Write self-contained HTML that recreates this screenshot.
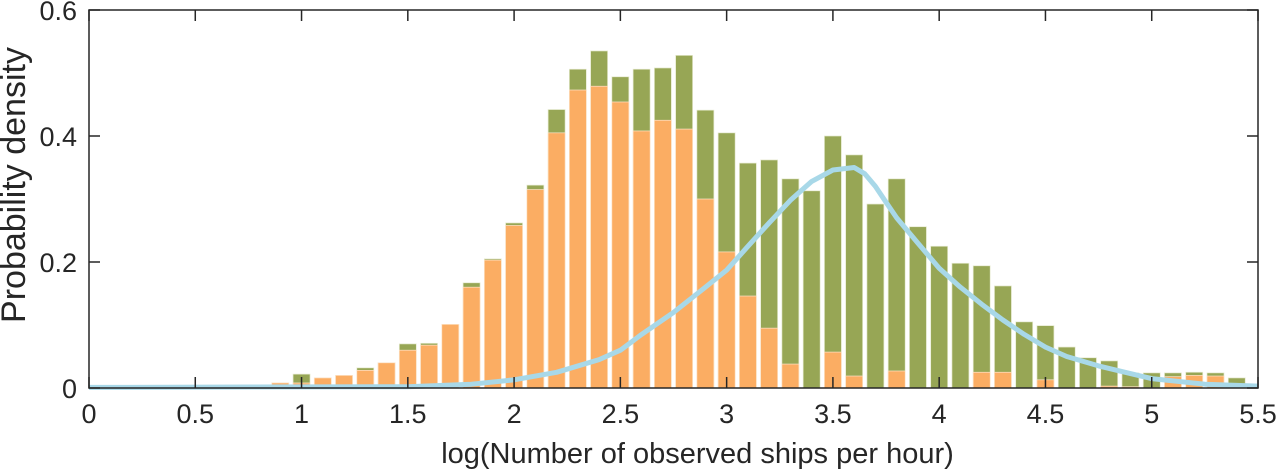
<!DOCTYPE html>
<html><head><meta charset="utf-8"><style>
html,body{margin:0;padding:0;background:#fff;}
svg{display:block;font-family:"Liberation Sans",Arial,sans-serif;}
</style></head><body>
<svg id="chart" width="1278" height="469" viewBox="0 0 1278 469">
<g id="bars"></g>
<g id="curve"></g>
<g id="axes"></g>
</svg>
<script>
const binCenters = [0.9,1.0,1.1,1.2,1.3,1.4,1.5,1.6,1.7,1.8,1.9,2.0,2.1,2.2,2.3,2.4,2.5,2.6,2.7,2.8,2.9,3.0,3.1,3.2,3.3,3.4,3.5,3.6,3.7,3.8,3.9,4.0,4.1,4.2,4.3,4.4,4.5,4.6,4.7,4.8,4.9,5.0,5.1,5.2,5.3,5.4];
const totalValues = [0.008,0.022,0.016,0.02,0.032,0.04,0.07,0.071,0.101,0.167,0.205,0.262,0.322,0.442,0.506,0.535,0.494,0.506,0.508,0.528,0.441,0.405,0.357,0.362,0.332,0.313,0.40,0.37,0.292,0.332,0.256,0.225,0.198,0.194,0.162,0.105,0.099,0.065,0.048,0.043,0.024,0.024,0.024,0.025,0.024,0.016];
const orangeValues = [0.008,0.008,0.016,0.02,0.028,0.04,0.06,0.068,0.101,0.16,0.203,0.258,0.315,0.405,0.473,0.479,0.454,0.408,0.425,0.411,0.30,0.216,0.146,0.095,0.038,0,0.057,0.019,0,0.027,0,0,0,0.025,0.025,0,0.013,0,0,0.003,0.002,0,0.018,0.02,0.019,0];
const curveX = [0,1.5,1.8,2.0,2.2,2.4,2.5,2.6,2.75,2.9,3.0,3.1,3.2,3.3,3.4,3.5,3.6,3.65,3.7,3.75,3.8,3.9,4.0,4.1,4.2,4.3,4.4,4.5,4.6,4.75,5.0,5.25,5.5];
const curveY = [0.001,0.002,0.006,0.013,0.025,0.045,0.06,0.085,0.12,0.16,0.187,0.225,0.262,0.298,0.328,0.346,0.35,0.34,0.32,0.295,0.27,0.23,0.19,0.16,0.133,0.108,0.085,0.065,0.05,0.035,0.015,0.006,0.003];
const xTicks = [0,0.5,1,1.5,2,2.5,3,3.5,4,4.5,5,5.5];
const xTickLabels = ["0","0.5","1","1.5","2","2.5","3","3.5","4","4.5","5","5.5"];
const yTicks = [0,0.2,0.4,0.6];
const yTickLabels = ["0","0.2","0.4","0.6"];

const L=89,R=1258,T=10,B=388;
const xs=v=>L+(v/5.5)*(R-L);
const ys=v=>B-(v/0.6)*(B-T);
const NS="http://www.w3.org/2000/svg";
function mk(tag,attrs,parent){const e=document.createElementNS(NS,tag);for(const k in attrs)e.setAttribute(k,attrs[k]);parent.appendChild(e);return e;}
const bars=document.getElementById('bars');
const bw=(xs(0.08)-xs(0));
binCenters.forEach((c,i)=>{
  const g=mk('rect',{x:xs(c)-bw/2,y:ys(totalValues[i]),width:bw,height:B-ys(totalValues[i]),fill:'#97a655',stroke:'#e6ead0','stroke-width':0.7},bars);
  
  
  if(orangeValues[i]>0){
    const o=mk('rect',{x:xs(c)-bw/2,y:ys(orangeValues[i]),width:bw,height:B-ys(orangeValues[i]),fill:'#fbad63',stroke:'#fde3c8','stroke-width':0.7},bars);
    
    
  }
});
const cg=document.getElementById('curve');
const pts=curveX.map((x,i)=>xs(x).toFixed(1)+','+ys(curveY[i]).toFixed(1)).join(' ');
const pl=mk('polyline',{points:pts,fill:'none',stroke:'#a8d8e8','stroke-width':5,'stroke-linejoin':'round'},cg);


const ax=document.getElementById('axes');
const box=mk('rect',{x:L,y:T,width:R-L,height:B-T,fill:'none',stroke:'#262626','stroke-width':1.5},ax);


xTicks.forEach((v,i)=>{
  mk('line',{x1:xs(v),x2:xs(v),y1:B,y2:B-11,stroke:'#262626','stroke-width':1.5},ax);
  mk('line',{x1:xs(v),x2:xs(v),y1:T,y2:T+11,stroke:'#262626','stroke-width':1.5},ax);
  const t=mk('text',{x:xs(v),y:B+35,'text-anchor':'middle','font-size':27,fill:'#262626'},ax);
  t.textContent=xTickLabels[i];
  
  
});
yTicks.forEach((v,i)=>{
  mk('line',{x1:L,x2:L+11,y1:ys(v),y2:ys(v),stroke:'#262626','stroke-width':1.5},ax);
  mk('line',{x1:R,x2:R-11,y1:ys(v),y2:ys(v),stroke:'#262626','stroke-width':1.5},ax);
  const t=mk('text',{x:L-12,y:ys(v)+10,'text-anchor':'end','font-size':27,fill:'#262626'},ax);
  t.textContent=yTickLabels[i];
  
  
});
const xl=mk('text',{x:(L+R)/2+24,y:463,'text-anchor':'middle','font-size':29,fill:'#262626'},ax);
xl.textContent='log(Number of observed ships per hour)';


const yl=mk('text',{x:0,y:0,'text-anchor':'middle','font-size':34,fill:'#262626',transform:'translate(25,185) rotate(-90)'},ax);
yl.textContent='Probability density';


</script>
</body></html>
